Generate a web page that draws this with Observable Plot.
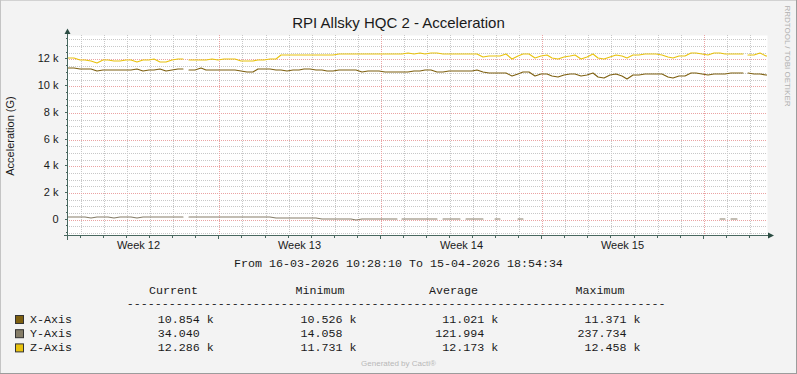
<!DOCTYPE html>
<html><head><meta charset="utf-8">
<script src="https://cdn.jsdelivr.net/npm/d3@7"></script>
<script src="https://cdn.jsdelivr.net/npm/@observablehq/plot@0.6"></script>
<style>
html,body{margin:0;padding:0;background:#f3f3f3;}
#chart{position:relative;width:797px;height:374px;background:#f3f3f3;overflow:hidden;}
#chart svg{position:absolute;left:0;top:0;}
</style></head><body><div id="chart"></div>
<script>
// ---- data ----
const title = "RPI Allsky HQC 2 - Acceleration";
const yLabel = "Acceleration (G)";
const startTime = Date.UTC(2026, 2, 16, 10, 28, 10);
const endTime = Date.UTC(2026, 3, 15, 18, 54, 34);
const stepHours = 6;
const seriesNames = ["X-Axis", "Y-Axis", "Z-Axis"];
const seriesColors = ["#7D5F0F", "#857D68", "#E8C20E"];
const weekLabels = ["Week 12", "Week 13", "Week 14", "Week 15"];
const weekMids = [Date.UTC(2026,2,19,12), Date.UTC(2026,2,26,12), Date.UTC(2026,3,2,12), Date.UTC(2026,3,9,12)];
const yTickValues = [0, 2000, 4000, 6000, 8000, 10000, 12000];
const legendHeaders = ["Current", "Minimum", "Average", "Maximum"];
const currentVals = [10854, 34.040, 12286];
const minimumVals = [10526, 14.058, 11731];
const averageVals = [11021, 121.994, 12173];
const maximumVals = [11371, 237.734, 12458];

const xAxisVals = [11370,11360,11260,11260,11260,11135,11210,11210,11210,11210,
 11210,11210,11285,11135,11210,11210,11260,11135,11210,11260,
 null,11210,11210,11335,11210,11210,11210,11210,11210,11210,
 11135,11085,11035,11260,11260,11260,11210,11210,11135,11235,
 11235,11310,11310,11185,11185,11135,11135,11185,11185,11185,
 11185,11060,11110,11110,11110,11085,11085,11035,11035,11035,
 11135,11135,11185,11185,11060,11060,11135,11135,11135,11135,
 11135,11185,11035,10985,10985,10985,10985,10735,10935,11060,
 11035,10785,10885,10935,10735,10685,10810,10885,10935,10735,
 10810,10985,10685,10635,10835,10885,10735,10526,10810,10810,
 10885,10885,10885,10935,10685,10610,10735,10785,10985,10985,
 10935,10810,10885,10885,10885,10985,10985,null,10985,10935,
 10885,10854];
const yAxisVals = [200,200,200,200,140,200,200,200,140,200,
 200,200,140,200,238,190,200,200,200,200,
 null,200,200,237,170,200,200,200,200,200,
 170,200,200,200,200,200,125,125,125,125,
 125,125,125,120,40,40,40,40,40,40,
 14,40,40,40,40,40,40,null,40,40,
 40,40,40,40,null,40,40,40,null,40,
 40,40,null,null,30,null,null,null,30,null,
 null,null,null,null,null,null,null,null,null,null,
 null,null,null,null,null,null,null,null,null,null,
 null,null,null,null,null,null,null,null,null,null,
 null,null,null,30,null,34,null,null,null,null,
 null,null];
const zAxisVals = [12110,12110,11940,11940,11890,11731,11940,11940,11860,11860,
 11940,11940,11810,11940,11940,12010,11840,11840,11940,12040,
 null,11990,11990,11990,11990,12060,11990,12040,12010,12010,
 11890,11890,11890,11940,11940,12010,12010,12310,12360,12310,
 12310,12340,12340,12340,12340,12340,12360,12410,12440,12390,
 12440,12440,12440,12410,12390,12390,12390,12390,12440,12458,
 12440,12458,12440,12458,12458,12390,12390,12390,12390,12440,
 12440,12440,12190,12260,12260,12260,12390,12060,12240,12440,
 12410,12140,12260,12310,12110,12060,12190,12260,12310,12060,
 12190,12390,12110,12060,12190,12360,12240,12140,12310,12310,
 12390,12390,12390,12310,12190,12110,12260,12260,12450,12450,
 12390,12340,12450,12450,12440,12390,12410,null,12360,12360,
 12450,12286];

// ---- rows: each sample drawn at its time; runs end one step later ----
const H = 3600e3;
const tAt = i => new Date(startTime + i * stepHours * H);
function lineRowsFor(values, name) {
  const rows = [];
  values.forEach((v, i) => {
    if (v == null) return;
    rows.push({t: tAt(i), v, s: name});
    if (i + 1 >= values.length || values[i + 1] == null) {
      rows.push({t: tAt(i + 1), v, s: name});
      rows.push({t: tAt(i + 1), v: NaN, s: name});
    }
  });
  return rows;
}
const allSeries = [xAxisVals, yAxisVals, zAxisVals];
const lineRows = [1, 0, 2].flatMap(k => lineRowsFor(allSeries[k], seriesNames[k]));

// grid values
const minorY = d3.range(-1000, 13760, 500).filter(v => v % 2000 !== 0);
const majorY = d3.range(0, 13760, 2000);
const days = d3.utcDay.range(new Date(startTime), new Date(endTime));
const majorX = days.filter(d => d.getUTCDay() === 1);
const minorX = days.filter(d => d.getUTCDay() !== 1);

const NB = "\u00a0";
const fmtK = v => (v >= 1000 ? (v / 1000).toFixed(3).padStart(8) + " k" : v.toFixed(3).padStart(8)).replace(/ /g, NB);

const plot = Plot.plot({
  width: 797, height: 374,
  marginLeft: 67, marginRight: 30, marginTop: 35, marginBottom: 139,
  style: {background: "transparent", fontFamily: "'Liberation Sans', Arial, sans-serif", fontSize: "11px", color: "#1a1a1a", overflow: "visible"},
  x: {type: "utc", domain: [new Date(startTime), new Date(endTime)], round: true, axis: null},
  y: {domain: [-1220, 13760], round: true, axis: null},
  color: {domain: seriesNames, range: seriesColors},
  marks: [
    Plot.frame({fill: "white", stroke: "none"}),
    Plot.ruleY(minorY, {stroke: "#c8c8c8", strokeDasharray: "1,1", dy: 0.5, shapeRendering: "crispEdges"}),
    Plot.ruleX(minorX, {stroke: "#c8c8c8", strokeDasharray: "1,1", dx: 0.5, shapeRendering: "crispEdges"}),
    Plot.ruleY(majorY, {stroke: "#eba3a3", strokeDasharray: "1,1", dy: 0.5, shapeRendering: "crispEdges"}),
    Plot.ruleX(majorX, {stroke: "#eba3a3", strokeDasharray: "1,1", dx: 0.5, shapeRendering: "crispEdges"}),
    Plot.line(lineRows, {x: "t", y: "v", z: "s", stroke: "s", curve: "linear", strokeWidth: 1.1, dx: 0.5, dy: 0.5, clip: true}),
    Plot.axisY({ticks: yTickValues, tickFormat: d => d === 0 ? "0" : (d / 1000) + " k", tickSize: 0, tickPadding: 9, label: null}),
    Plot.axisX({ticks: weekMids.map(d => new Date(d)), tickFormat: d => weekLabels[weekMids.indexOf(+d)], tickSize: 0, tickPadding: 5.5, label: null})
  ]
});
document.getElementById("chart").appendChild(plot);

// ---- overlay: frame, axes, arrows, title, legend ----
const xs = plot.scale("x"), ys = plot.scale("y");
const x0 = Math.round(xs.apply(new Date(startTime))) + 0.5;
const x1 = Math.round(xs.apply(new Date(endTime)));
const yb = Math.round(ys.apply(-1220)) + 0.5;
const yt = Math.round(ys.apply(13760));
const axisColor = "#48675f";
const ov = d3.create("svg").attr("width", 797).attr("height", 374)
  .style("font-family", "'Liberation Sans', Arial, sans-serif");

// border
ov.append("line").attr("x1", 0).attr("x2", 797).attr("y1", 0.5).attr("y2", 0.5).attr("stroke", "#d2d2d2");
ov.append("line").attr("x1", 0.5).attr("x2", 0.5).attr("y1", 0).attr("y2", 374).attr("stroke", "#c4c4c4");
ov.append("line").attr("x1", 796.5).attr("x2", 796.5).attr("y1", 0).attr("y2", 374).attr("stroke", "#9c9c9c");
ov.append("line").attr("x1", 0).attr("x2", 797).attr("y1", 373.5).attr("y2", 373.5).attr("stroke", "#9c9c9c");

// tick marks on axes
const tg = ov.append("g").attr("stroke", axisColor).attr("shape-rendering", "crispEdges");
days.forEach(d => {
  const x = Math.round(xs.apply(d)) + 0.5;
  const len = d.getUTCDay() === 1 ? 3 : 2;
  tg.append("line").attr("x1", x).attr("x2", x).attr("y1", yb).attr("y2", yb + len);
});
minorY.concat(majorY).forEach(v => {
  const y = Math.round(ys.apply(v)) + 0.5;
  const len = v % 2000 === 0 ? 3 : 2;
  tg.append("line").attr("x1", x0 - len).attr("x2", x0).attr("y1", y).attr("y2", y);
});
// axis lines
tg.append("line").attr("x1", x0 - 4).attr("x2", x1 + 3).attr("y1", yb).attr("y2", yb);
tg.append("line").attr("x1", x0).attr("x2", x0).attr("y1", yb + 4).attr("y2", yt - 2);
// arrows
ov.append("path").attr("d", `M${x1 + 7},${yb} L${x1 + 1},${yb - 3} L${x1 + 1},${yb + 3} Z`).attr("fill", "#2c4d43");
ov.append("path").attr("d", `M${x0},${yt - 6.5} L${x0 - 3},${yt - 1} L${x0 + 3},${yt - 1} Z`).attr("fill", "#2c4d43");

// title & labels
ov.append("text").attr("x", 398.5).attr("y", 27.7).attr("text-anchor", "middle")
  .attr("font-size", 15).attr("fill", "#1a1a1a").text(title);
ov.append("text").attr("transform", "translate(13.5,136) rotate(-90)").attr("text-anchor", "middle")
  .attr("font-size", 11).attr("fill", "#1a1a1a").text(yLabel);
ov.append("text").attr("transform", "translate(784.5,56) rotate(90)").attr("text-anchor", "middle")
  .attr("font-size", 8).attr("fill", "#b0b0b0").text("RRDTOOL / TOBI OETIKER");
ov.append("text").attr("x", 398.5).attr("y", 366).attr("text-anchor", "middle")
  .attr("font-size", 8).attr("fill", "#b8b8b8").text("Generated by Cacti®");

// legend (monospace)
const mono = ov.append("g").attr("font-family", "'Liberation Mono', 'Courier New', monospace")
  .attr("font-size", 11.67).attr("fill", "#1a1a1a");
const fmtDate = d3.utcFormat("%d-%m-%Y %H:%M:%S");
mono.append("text").attr("x", 398.5).attr("y", 266.7).attr("text-anchor", "middle")
  .text(`From ${fmtDate(new Date(startTime))} To ${fmtDate(new Date(endTime))}`.replace(/ /g, NB));
const headerX = [149, 295.5, 429, 575.5];
legendHeaders.forEach((h, i) => mono.append("text").attr("x", headerX[i]).attr("y", 293.5).text(h));
mono.append("text").attr("x", 126.8).attr("y", 306.8).text("-".repeat(77));
const colX = [143.8, 286.5, 428.2, 570.5];
const rowY = [323, 337.2, 351.4];
seriesNames.forEach((name, k) => {
  ov.append("rect").attr("x", 15.5).attr("y", rowY[k] - 7.5).attr("width", 8).attr("height", 8)
    .attr("fill", seriesColors[k]).attr("stroke", "#333");
  mono.append("text").attr("x", 30).attr("y", rowY[k]).text(name);
  [currentVals, minimumVals, averageVals, maximumVals].forEach((arr, c) => {
    mono.append("text").attr("x", colX[c]).attr("y", rowY[k]).text(fmtK(arr[k]));
  });
});
document.getElementById("chart").appendChild(ov.node());
</script></body></html>
